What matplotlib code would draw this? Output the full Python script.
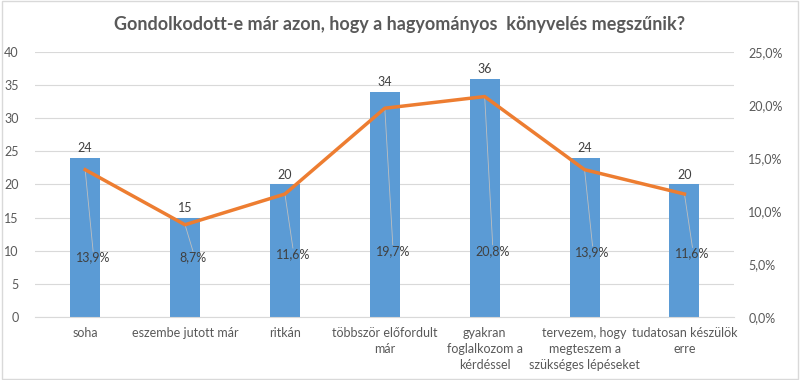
import matplotlib.pyplot as plt
import numpy as np

categories = ['soha', 'eszembe jutott már', 'ritkán', 'többször előfordult\nmár',
              'gyakran\nfoglalkozom a\nkérdéssel', 'tervezem, hogy\nmegteszem a\nszükséges lépéseket',
              'tudatosan készülök\nerre']
counts = [24, 15, 20, 34, 36, 24, 20]
shares = [13.9, 8.7, 11.6, 19.7, 20.8, 13.9, 11.6]
label_y = [9.0, 9.0, 9.5, 10.0, 10.0, 9.8, 9.6]

plt.rcParams['font.family'] = ['Lato', 'DejaVu Sans']
grey = '#595959'

fig = plt.figure(figsize=(8, 3.8), dpi=100)
ax = fig.add_axes([0.044, 0.166, 0.874, 0.697])
ax2 = ax.twinx()

x = np.arange(len(categories))
ax.bar(x, counts, width=0.3, color='#5B9BD5', zorder=2)
for xi, c in zip(x, counts):
    ax.text(xi, c + 0.6, str(c), ha='center', va='bottom', fontsize=9, color='#404040')

ax.set_ylim(0, 40)
ax.set_yticks(np.arange(0, 41, 5))
ax.set_xlim(-0.5, len(categories) - 0.5)
ax.set_xticks(x)
ax.set_xticklabels(categories, fontsize=8.5, color=grey, linespacing=1.4)
ax.grid(axis='y', color='#D9D9D9', linewidth=0.8, zorder=0)
ax.set_axisbelow(True)

ax2.plot(x, shares, color='#ED7D31', linewidth=2.5, zorder=3)
ax2.set_ylim(0, 25)
ax2.set_yticks(np.arange(0, 26, 5))
ax2.set_yticklabels([f'{v:.1f}%'.replace('.', ',') for v in np.arange(0, 26, 5)])

# percentage labels with leader lines (left-axis units)
for xi, s, ly in zip(x, shares, label_y):
    py = s * 40 / 25
    lx = xi + 0.08
    ax.plot([xi, lx], [py, ly + 0.9], color='#BFBFBF', linewidth=0.6, zorder=4)
    ax.text(lx, ly, f'{s:.1f}%'.replace('.', ','), ha='center', va='center',
            fontsize=9, color='#404040', zorder=5)

for a in (ax, ax2):
    for sp in a.spines.values():
        sp.set_visible(False)
    a.tick_params(length=0, labelsize=9, colors=grey)
ax.spines['bottom'].set_visible(True)
ax.spines['bottom'].set_color('#D9D9D9')
ax.tick_params(axis='x', pad=7)
ax.tick_params(axis='y', pad=12)
ax2.tick_params(axis='y', pad=10)

fig.text(0.5, 0.935, 'Gondolkodott-e már azon, hogy a hagyományos  könyvelés megszűnik?',
         ha='center', va='center', fontsize=13, fontweight='bold', color=grey)

fig.patches.append(plt.Rectangle((0.002, 0.003), 0.996, 0.994, transform=fig.transFigure,
                                 fill=False, edgecolor='#D9D9D9', linewidth=1))

fig.savefig('out.png', dpi=100)
